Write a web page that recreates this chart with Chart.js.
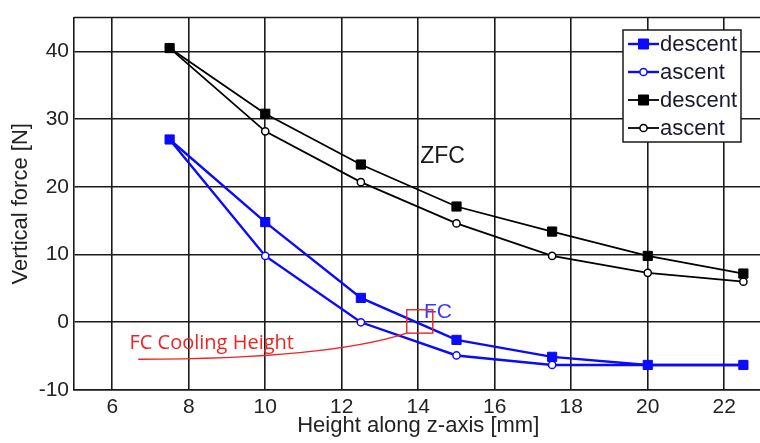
<!DOCTYPE html>
<html>
<head>
<meta charset="utf-8">
<script src="https://cdn.jsdelivr.net/npm/chart.js@4.4.1/dist/chart.umd.min.js"></script>
<style>
  html, body { margin: 0; padding: 0; background: #fff; overflow: hidden; }
  #wrap { position: relative; width: 770px; height: 443px; }
</style>
</head>
<body>
<div id="wrap"><canvas id="forceChart"></canvas></div>
<script>
// height along z-axis [mm]
const heights = [7.5, 10, 12.5, 15, 17.5, 20, 22.5];
// FC, vertical force [N]
const fcDescent = [27, 14.8, 3.6, -2.6, -5.1, -6.3, -6.3];
const fcAscent  = [27, 9.8, 0, -4.9, -6.3, -6.3, -6.3];
// ZFC, vertical force [N]
const zfcDescent = [40.5, 30.8, 23.3, 17.1, 13.4, 9.8, 7.2];
const zfcAscent  = [40.5, 28.2, 20.7, 14.6, 9.8, 7.3, 6.0];

const xTicks = [6, 8, 10, 12, 14, 16, 18, 20, 22];
const yTicks = [-10, 0, 10, 20, 30, 40];

const BLUE = '#0a0aff';
const BLACK = '#000';
const RED = '#ee2424';
const FONT = 'Liberation Sans, Arial, sans-serif';

function toPoints(ys) {
    return heights.map((x, i) => ({ x: x, y: ys[i] }));
}

function series(label, ys, color, filled) {
    return {
        label: label,
        data: toPoints(ys),
        showLine: true,
        borderColor: color,
        borderWidth: color === BLUE ? 2.4 : 1.8,
        pointStyle: filled ? 'rect' : 'circle',
        pointRadius: filled ? 6.5 : 3.6,
        pointBorderWidth: filled ? 1 : 1.5,
        pointBackgroundColor: filled ? color : '#fff',
        pointBorderColor: color,
        pointHoverRadius: filled ? 6.5 : 3.6
    };
}

// frame, annotations
const annotations = {
    id: 'annotations',
    afterDatasetsDraw(chart) {
        const { ctx, chartArea: a, scales: { x, y } } = chart;
        ctx.save();
        ctx.strokeStyle = '#1a1a1a';
        ctx.lineWidth = 1.5;
        ctx.beginPath();
        ctx.moveTo(a.left, a.top);
        ctx.lineTo(a.right, a.top);
        ctx.stroke();

        ctx.textBaseline = 'alphabetic';
        ctx.textAlign = 'left';
        ctx.font = '23px ' + FONT;
        ctx.fillStyle = '#1a1a1a';
        ctx.fillText('ZFC', x.getPixelForValue(14.05), y.getPixelForValue(23.5));
        ctx.font = '21px ' + FONT;
        ctx.fillStyle = '#3b3bff';
        ctx.fillText('FC', x.getPixelForValue(14.15), y.getPixelForValue(0.7));

        // cooling height marker
        ctx.strokeStyle = RED;
        ctx.lineWidth = 1.4;
        const sx0 = x.getPixelForValue(13.7), sx1 = x.getPixelForValue(14.38);
        const sy0 = y.getPixelForValue(1.85), sy1 = y.getPixelForValue(-1.6);
        ctx.strokeRect(sx0, sy0, sx1 - sx0, sy1 - sy0);
        ctx.beginPath();
        ctx.moveTo(x.getPixelForValue(6.68), y.getPixelForValue(-5.45));
        ctx.quadraticCurveTo(x.getPixelForValue(11.6), y.getPixelForValue(-5.45), sx0, sy1);
        ctx.stroke();
        ctx.font = '20px "Open Sans", sans-serif';
        ctx.fillStyle = RED;
        ctx.fillText('FC Cooling Height', x.getPixelForValue(6.45), y.getPixelForValue(-3.9));
        ctx.restore();
    }
};

// boxed legend, top right
const boxLegend = {
    id: 'boxLegend',
    afterDraw(chart) {
        const ctx = chart.ctx;
        const bx = 623, by = 30, bw = 118, bh = 112;
        ctx.save();
        ctx.fillStyle = '#fff';
        ctx.fillRect(bx, by, bw, bh);
        ctx.strokeStyle = '#1a1a1a';
        ctx.lineWidth = 1.5;
        ctx.strokeRect(bx, by, bw, bh);
        ctx.font = '22px ' + FONT;
        ctx.textBaseline = 'middle';
        chart.data.datasets.forEach((ds, i) => {
            const cy = by + 14 + i * 28;
            ctx.strokeStyle = ds.borderColor;
            ctx.lineWidth = ds.borderWidth;
            ctx.beginPath();
            ctx.moveTo(bx + 5, cy);
            ctx.lineTo(bx + 36, cy);
            ctx.stroke();
            ctx.lineWidth = ds.pointBorderWidth;
            ctx.fillStyle = ds.pointBackgroundColor;
            ctx.beginPath();
            if (ds.pointStyle === 'rect') {
                ctx.rect(bx + 20.5 - 5, cy - 5, 10, 10);
            } else {
                ctx.arc(bx + 20.5, cy, ds.pointRadius, 0, Math.PI * 2);
            }
            ctx.fill();
            ctx.stroke();
            ctx.fillStyle = '#1a1a2e';
            ctx.fillText(ds.label, bx + 37, cy + 1);
        });
        ctx.restore();
    }
};

new Chart(document.getElementById('forceChart'), {
    type: 'scatter',
    data: {
        datasets: [
            series('descent', fcDescent, BLUE, true),
            series('ascent', fcAscent, BLUE, false),
            series('descent', zfcDescent, BLACK, true),
            series('ascent', zfcAscent, BLACK, false)
        ]
    },
    options: {
        responsive: true,
        maintainAspectRatio: false,
        animation: false,
        layout: { padding: { top: 8, right: 6, left: 0, bottom: 0 } },
        plugins: {
            legend: { display: false },
            tooltip: { enabled: false }
        },
        scales: {
            x: {
                type: 'linear',
                min: 5,
                max: 23,
                afterBuildTicks: (s) => { s.ticks = xTicks.map(v => ({ value: v })); },
                afterFit: (s) => { s.height = 53; },
                grid: { color: '#1a1a1a', lineWidth: 1.6, drawTicks: false },
                border: { color: '#1a1a1a', width: 1.6 },
                ticks: { color: '#222', padding: 5, font: { family: FONT, size: 21 } },
                title: {
                    display: true,
                    text: 'Height along z-axis [mm]',
                    color: '#222',
                    font: { family: FONT, size: 22 },
                    padding: { bottom: 4 }
                }
            },
            y: {
                min: -10,
                max: 45,
                afterBuildTicks: (s) => { s.ticks = yTicks.map(v => ({ value: v })); },
                afterFit: (s) => { s.width = 74; },
                grid: { color: '#1a1a1a', lineWidth: 1.6, drawTicks: false },
                border: { color: '#1a1a1a', width: 1.6 },
                ticks: { color: '#222', padding: 5, font: { family: FONT, size: 21 } },
                title: {
                    display: true,
                    text: 'Vertical force [N]',
                    color: '#222',
                    font: { family: FONT, size: 22 },
                    padding: { top: 8 }
                }
            }
        }
    },
    plugins: [annotations, boxLegend]
});
</script>
</body>
</html>
